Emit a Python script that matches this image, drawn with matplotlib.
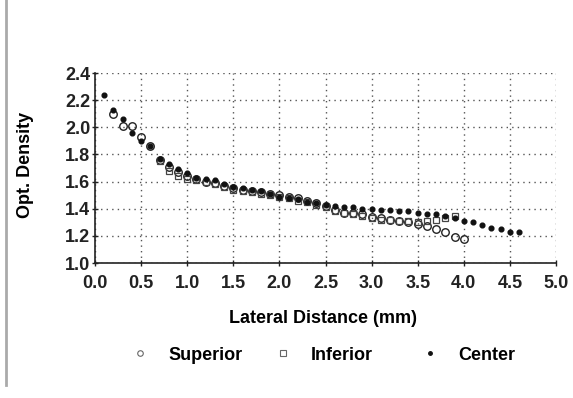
import matplotlib
matplotlib.use("Agg")
import matplotlib.pyplot as plt
from matplotlib.lines import Line2D

plt.rcParams['font.family'] = ['Liberation Sans', 'DejaVu Sans']

center_x = [0.1, 0.2, 0.3, 0.4, 0.5, 0.6, 0.7, 0.8, 0.9, 1.0,
            1.1, 1.2, 1.3, 1.4, 1.5, 1.6, 1.7, 1.8, 1.9, 2.0,
            2.1, 2.2, 2.3, 2.4, 2.5, 2.6, 2.7, 2.8, 2.9, 3.0,
            3.1, 3.2, 3.3, 3.4, 3.5, 3.6, 3.7, 3.8, 3.9, 4.0,
            4.1, 4.2, 4.3, 4.4, 4.5, 4.6]
center_y = [2.24, 2.13, 2.06, 1.96, 1.90, 1.86, 1.77, 1.73, 1.69, 1.66,
            1.63, 1.62, 1.61, 1.58, 1.56, 1.55, 1.54, 1.53, 1.51, 1.49,
            1.48, 1.47, 1.45, 1.44, 1.43, 1.42, 1.41, 1.41, 1.40, 1.40,
            1.39, 1.39, 1.38, 1.38, 1.37, 1.36, 1.36, 1.35, 1.33, 1.31,
            1.30, 1.28, 1.26, 1.25, 1.23, 1.23]

superior_x = [0.2, 0.3, 0.4, 0.5, 0.6, 0.7, 0.8, 0.9, 1.0,
              1.1, 1.2, 1.3, 1.4, 1.5, 1.6, 1.7, 1.8, 1.9, 2.0,
              2.1, 2.2, 2.3, 2.4, 2.5, 2.6, 2.7, 2.8, 2.9, 3.0,
              3.1, 3.2, 3.3, 3.4, 3.5, 3.6, 3.7, 3.8, 3.9, 4.0]
superior_y = [2.10, 2.01, 2.01, 1.93, 1.86, 1.76, 1.71, 1.67, 1.64,
              1.62, 1.60, 1.59, 1.57, 1.55, 1.54, 1.53, 1.52, 1.51, 1.50,
              1.49, 1.48, 1.46, 1.44, 1.42, 1.39, 1.37, 1.37, 1.36, 1.34,
              1.33, 1.32, 1.31, 1.30, 1.29, 1.27, 1.25, 1.23, 1.19, 1.18]

inferior_x = [0.7, 0.8, 0.9, 1.0,
              1.1, 1.2, 1.3, 1.4, 1.5, 1.6, 1.7, 1.8, 1.9, 2.0,
              2.1, 2.2, 2.3, 2.4, 2.5, 2.6, 2.7, 2.8, 2.9, 3.0,
              3.1, 3.2, 3.3, 3.4, 3.5, 3.6, 3.7, 3.8, 3.9]
inferior_y = [1.75, 1.68, 1.64, 1.62,
              1.61, 1.60, 1.58, 1.56, 1.54, 1.53, 1.52, 1.51, 1.50, 1.49,
              1.48, 1.46, 1.45, 1.43, 1.41, 1.38, 1.37, 1.36, 1.35, 1.33,
              1.32, 1.32, 1.31, 1.31, 1.30, 1.31, 1.32, 1.33, 1.35]

x_ticks = [0.0, 0.5, 1.0, 1.5, 2.0, 2.5, 3.0, 3.5, 4.0, 4.5, 5.0]
y_ticks = [1.0, 1.2, 1.4, 1.6, 1.8, 2.0, 2.2, 2.4]
legend_labels = ['Superior', 'Inferior', 'Center']

FS = 13

fig = plt.figure(figsize=(5.73, 3.98), dpi=100)
ax = fig.add_axes([95/573, 1 - 263/398, (556 - 95)/573, (263 - 73)/398])

ax.plot(superior_x, superior_y, linestyle='none', marker='o', ms=5.4,
        mfc='none', mec='#222222', mew=1.0, zorder=3)
ax.plot(inferior_x, inferior_y, linestyle='none', marker='s', ms=5.0,
        mfc='none', mec='#444444', mew=0.9, zorder=3)
ax.plot(center_x, center_y, linestyle='none', marker='o', ms=3.4,
        mfc='#111111', mec='#111111', zorder=4)

ax.set_xlim(0, 5)
ax.set_ylim(1.0, 2.4)
ax.set_xticks(x_ticks)
ax.set_yticks(y_ticks)
ax.set_xticklabels([f"{v:.1f}" for v in x_ticks], fontweight='bold', fontsize=FS)
ax.set_yticklabels([f"{v:.1f}" for v in y_ticks], fontweight='bold', fontsize=FS)
ax.tick_params(direction='inout', length=5, width=1, colors='#222222')
ax.tick_params(axis='x', pad=6)
ax.tick_params(axis='y', pad=1)
ax.grid(True, linestyle=(0, (1, 3)), color='#555555', linewidth=1.0)
for s in ['top', 'right']:
    ax.spines[s].set_visible(False)
for s in ['left', 'bottom']:
    ax.spines[s].set_linewidth(1.2)
    ax.spines[s].set_color('#222222')

ax.set_xlabel('Lateral Distance (mm)', fontweight='bold', fontsize=FS)
ax.set_ylabel('Opt. Density', fontweight='bold', fontsize=FS)
ax.xaxis.set_label_coords((323 - 95) / 461, -(310 - 263) / 190)
ax.yaxis.set_label_coords(-(95 - 34) / 461, (263 - 165) / 190)

handles = [
    Line2D([], [], linestyle='none', marker='o', ms=4, mfc='none', mec='#666666', mew=0.8),
    Line2D([], [], linestyle='none', marker='s', ms=4, mfc='none', mec='#666666', mew=0.8),
    Line2D([], [], linestyle='none', marker='o', ms=2.5, mfc='#111111', mec='#111111'),
]
marker_px = [140, 283, 430]
half_handle = 0.5 * FS * 100 / 72
for h, lab, mx in zip(handles, legend_labels, marker_px):
    fig.legend([h], [lab], loc='center left',
               bbox_to_anchor=((mx - half_handle) / 573, 1 - 355/398),
               frameon=False, prop={'weight': 'bold', 'size': FS},
               handlelength=1.0, handletextpad=1.05, borderpad=0, borderaxespad=0)

fig.add_artist(Line2D([6/573, 6/573], [1 - 385/398, 1.0], color='#aaaaaa', lw=2))

fig.savefig('out.png', dpi=100)
